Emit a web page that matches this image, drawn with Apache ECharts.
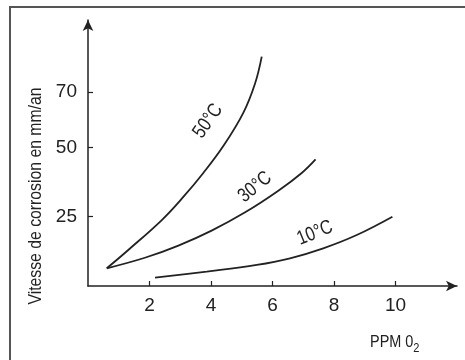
<!DOCTYPE html>
<html>
<head>
<meta charset="utf-8">
<script src="https://cdn.jsdelivr.net/npm/echarts@6/dist/echarts.min.js"></script>
<style>
  html, body { margin: 0; padding: 0; background: #fff; }
  #chart { width: 465px; height: 360px; }
</style>
</head>
<body>
<div id="chart"></div>
<script>
// courbes : [ppm O2, vitesse mm/an]
var curve50 = [[0.61, 6.4], [1.31, 13.0], [2.40, 23.8], [3.05, 31.5], [3.75, 40.8], [4.40, 50.5], [5.05, 62.5], [5.43, 73.0], [5.65, 82.8]];
var curve30 = [[0.61, 6.4], [1.85, 10.2], [2.94, 14.6], [4.02, 20.0], [5.11, 26.6], [6.19, 34.4], [6.95, 40.8], [7.40, 45.7]];
var curve10 = [[2.18, 3.0], [3.86, 5.2], [5.49, 7.6], [6.57, 10.0], [7.65, 13.6], [8.74, 18.4], [9.90, 25.0]];
var xTicks = [2, 4, 6, 8, 10];
var yTicks = [25, 50, 70];
var curveNames = ['50°C', '30°C', '10°C'];

var FONT = '"Liberation Sans", Arial, sans-serif';
var INK = '#222';

var chart = echarts.init(document.getElementById('chart'), null, { renderer: 'canvas' });

function line(name, data) {
  return {
    name: name,
    type: 'line',
    data: data,
    smooth: 0.4,
    showSymbol: false,
    lineStyle: { color: INK, width: 1.8 }
  };
}

var option = {
  backgroundColor: '#fff',
  animation: false,
  grid: { left: 88, right: 8, top: 20, bottom: 74 },
  xAxis: {
    type: 'value',
    min: 0,
    max: 12,
    interval: 2,
    splitLine: { show: false },
    axisLine: { lineStyle: { color: INK, width: 1.5 }, symbol: ['none', 'arrow'], symbolSize: [8, 11] },
    axisTick: { inside: true, length: 5, customValues: xTicks, lineStyle: { color: INK, width: 1.2 } },
    axisLabel: { customValues: xTicks, margin: 10, fontFamily: FONT, fontSize: 19, color: INK }
  },
  yAxis: {
    type: 'value',
    min: 0,
    max: 96,
    splitLine: { show: false },
    axisLine: { lineStyle: { color: INK, width: 1.5 }, symbol: ['none', 'arrow'], symbolSize: [8, 11] },
    axisTick: { inside: true, length: 5, customValues: yTicks, lineStyle: { color: INK, width: 1.2 } },
    axisLabel: { customValues: yTicks, margin: 11, fontFamily: FONT, fontSize: 19, color: INK }
  },
  series: [
    line(curveNames[0], curve50),
    line(curveNames[1], curve30),
    line(curveNames[2], curve10)
  ]
};
chart.setOption(option);

// etiquettes des courbes, placees en coordonnees de donnees
var labelSpots = [
  { text: curveNames[0], at: [3.9, 59.5], angle: 55 },
  { text: curveNames[1], at: [5.43, 35.7], angle: 39 },
  { text: curveNames[2], at: [7.38, 19.1], angle: 22 }
];

var graphics = labelSpots.map(function (s) {
  var p = chart.convertToPixel({ gridIndex: 0 }, s.at);
  return {
    type: 'text',
    x: p[0],
    y: p[1],
    rotation: s.angle * Math.PI / 180,
    scaleX: 0.82,
    style: { text: s.text, font: '20px ' + FONT, fill: INK, align: 'center', verticalAlign: 'middle' }
  };
});

// titre de l'axe vertical (police etroite imitee par scaleX)
graphics.push({
  type: 'text',
  x: 36,
  y: 196,
  rotation: Math.PI / 2,
  scaleX: 0.83,
  style: { text: 'Vitesse de corrosion en mm/an', font: '19px ' + FONT, fill: INK, align: 'center', verticalAlign: 'middle' }
});

// titre de l'axe horizontal
graphics.push({
  type: 'text',
  x: 370,
  y: 342,
  scaleX: 0.85,
  style: {
    text: 'PPM 0{s|2}',
    font: '17px ' + FONT,
    fill: INK,
    verticalAlign: 'middle',
    rich: { s: { fontSize: 13, fontFamily: FONT, color: INK, padding: [13, 0, 0, 0] } }
  }
});

// cadre de l'image
graphics.push({
  type: 'polyline',
  shape: { points: [[10, 370], [10, 7], [470, 7]] },
  style: { stroke: '#555', lineWidth: 2, fill: null }
});

chart.setOption({ graphic: graphics });
</script>
</body>
</html>
